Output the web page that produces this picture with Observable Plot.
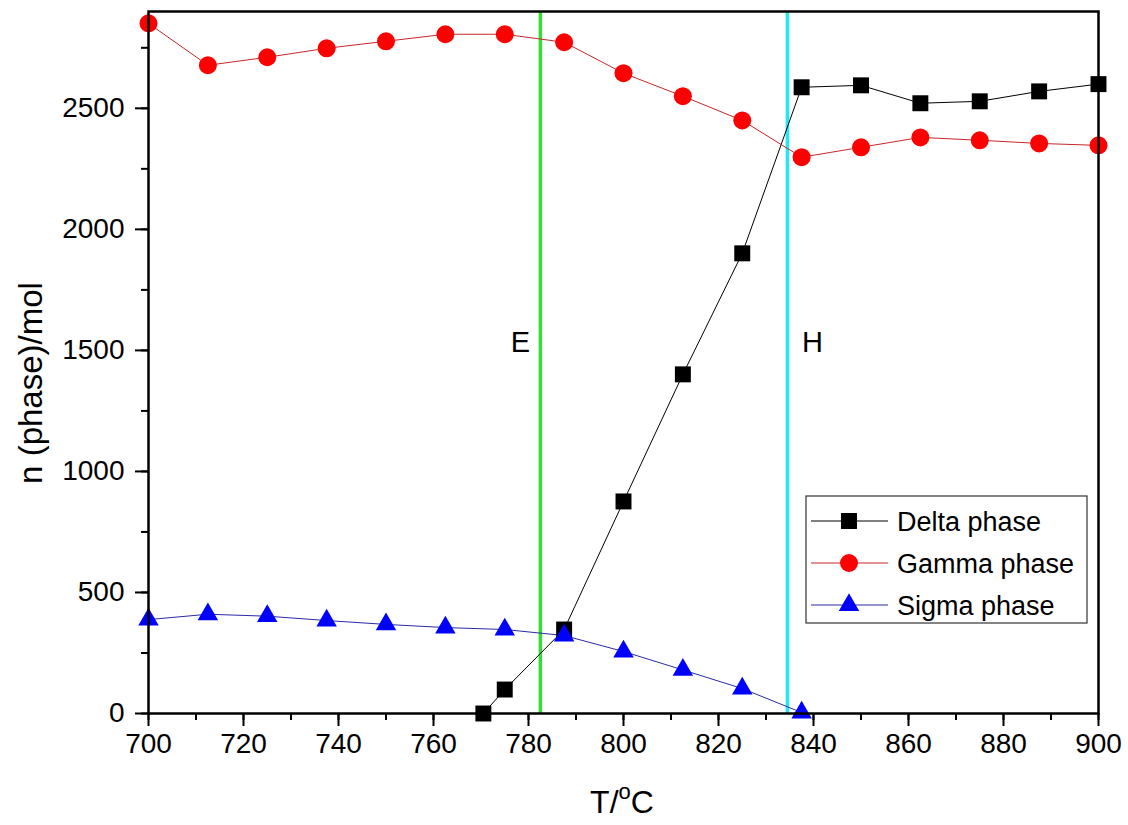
<!DOCTYPE html>
<html><head><meta charset="utf-8">
<script src="https://cdn.jsdelivr.net/npm/d3@7"></script>
<script src="https://cdn.jsdelivr.net/npm/@observablehq/plot@0.6"></script>
<style>
body{margin:0;background:#fff;font-family:"Liberation Sans",Arial,sans-serif;}
#wrap{position:relative;width:1128px;height:825px;}
</style></head><body><div id="wrap"></div>
<script>
// ---- data ----
const gammaT = [700,712.5,725,737.5,750,762.5,775,787.5,800,812.5,825,837.5,850,862.5,875,887.5,900];
const gammaN = [2851,2678,2711,2748,2777,2806,2806,2773,2645,2550,2450,2298,2339,2380,2368,2355,2347];
const deltaT = [770.5,775,787.5,800,812.5,825,837.5,850,862.5,875,887.5,900];
const deltaN = [0,99,347,876,1401,1901,2587,2595,2521,2529,2570,2600];
const sigmaT = [700,712.5,725,737.5,750,762.5,775,787.5,800,812.5,825,837.5];
const sigmaN = [388,410,402,384,368,355,347,322,256,180,103,4];
const vlineT = [782.5, 834.5];
const vlineColor = ["#33dd33", "#22e8f2"];
const vlineLabel = ["E", "H"];
const labelT = [778.3, 839.8];
const labelN = [1530, 1530];
const xMajor = [700,720,740,760,780,800,820,840,860,880,900];
const xMinor = d3.range(700, 901, 10);
const yMajor = [0,500,1000,1500,2000,2500];
const yMinor = d3.range(0, 2901, 250);
const seriesNames = ["Delta phase","Gamma phase","Sigma phase"];
const seriesLine = ["#000000","#c8262a","#2a2aa8"];
const seriesFill = ["#000000","#ff0000","#0000ff"];
const seriesSymbol = ["square","circle","triangle"];

const delta = deltaT.map((t,i)=>({t, n: deltaN[i]}));
const gamma = gammaT.map((t,i)=>({t, n: gammaN[i]}));
const sigma = sigmaT.map((t,i)=>({t, n: sigmaN[i]}));
const vlines = vlineT.map((t,i)=>({t, c: vlineColor[i]}));
const labels = labelT.map((t,i)=>({t, n: labelN[i], s: vlineLabel[i]}));

const plot = Plot.plot({
  width: 1128, height: 825,
  marginLeft: 148, marginRight: 30, marginTop: 11, marginBottom: 112,
  style: {fontFamily: '"Liberation Sans", Arial, sans-serif', fontSize: "28px", color: "#000", background: "#fff"},
  x: {domain: [700, 900]},
  y: {domain: [0, 2900]},
  marks: [
    Plot.ruleX(vlines, {x: "t", stroke: "c", strokeWidth: 3.5}),
    Plot.line(delta, {x: "t", y: "n", stroke: seriesLine[0], strokeWidth: 1}),
    Plot.line(gamma, {x: "t", y: "n", stroke: seriesLine[1], strokeWidth: 1}),
    Plot.line(sigma, {x: "t", y: "n", stroke: seriesLine[2], strokeWidth: 1}),
    Plot.dot(delta, {x: "t", y: "n", symbol: "square", r: 9, fill: seriesFill[0]}),
    Plot.dot(gamma, {x: "t", y: "n", symbol: "circle", r: 9, fill: seriesFill[1]}),
    Plot.dot(sigma, {x: "t", y: "n", symbol: "triangle", r: 7.6, fill: seriesFill[2]}),
    Plot.text(labels, {x: "t", y: "n", text: "s", fontSize: 29, fill: "#000"}),
    Plot.frame({stroke: "#000", strokeWidth: 2.5}),
    Plot.axisX({ticks: xMinor, tickSize: 7, text: null, label: null, strokeWidth: 2}),
    Plot.axisX({ticks: xMajor, tickSize: 13, tickPadding: 7, label: null, strokeWidth: 2, fontSize: 28, tickFormat: d => String(d)}),
    Plot.axisY({ticks: yMinor, tickSize: 7, text: null, label: null, strokeWidth: 2}),
    Plot.axisY({ticks: yMajor, tickSize: 13, tickPadding: 11, label: null, strokeWidth: 2, fontSize: 28, tickFormat: d => String(d)})
  ]
});
document.getElementById("wrap").appendChild(plot);

const svg = d3.select(plot);
// axis titles
const xt = svg.append("text").attr("x", 622).attr("y", 813).attr("text-anchor", "middle")
  .attr("font-size", 32).attr("fill", "#000");
xt.append("tspan").text("T/");
xt.append("tspan").text("o").attr("font-size", 22).attr("dy", -14);
xt.append("tspan").text("C").attr("dy", 14);
svg.append("text").attr("transform", "translate(42,383) rotate(-90)").attr("text-anchor", "middle")
  .attr("font-size", 33).attr("fill", "#000").text("n (phase)/mol");

// legend
const lg = svg.append("g");
lg.append("rect").attr("x", 806).attr("y", 496).attr("width", 281).attr("height", 127)
  .attr("fill", "#fff").attr("stroke", "#333").attr("stroke-width", 1.2);
seriesNames.forEach((name, i) => {
  const cy = 521 + i * 42;
  lg.append("line").attr("x1", 811).attr("x2", 888).attr("y1", cy).attr("y2", cy)
    .attr("stroke", seriesLine[i]).attr("stroke-width", 1);
  const sym = {square: d3.symbolSquare, circle: d3.symbolCircle, triangle: d3.symbolTriangle}[seriesSymbol[i]];
  const r = seriesSymbol[i] === "triangle" ? 7.6 : 9;
  lg.append("path").attr("d", d3.symbol(sym, Math.PI * r * r)()).attr("transform", `translate(849,${cy})`)
    .attr("fill", seriesFill[i]);
  lg.append("text").attr("x", 897).attr("y", cy).attr("dy", "0.36em").attr("text-anchor", "start")
    .attr("font-size", 27).attr("fill", "#000").text(name);
});
</script></body></html>
